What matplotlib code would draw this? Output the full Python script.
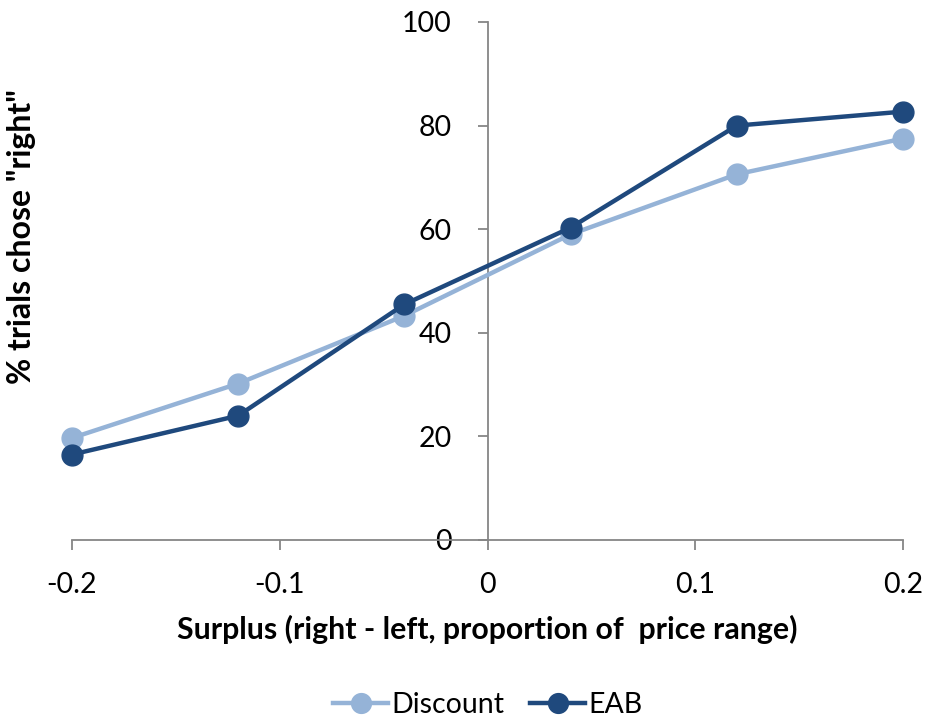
import matplotlib
matplotlib.use('Agg')
import matplotlib.pyplot as plt

surplus = [-0.2, -0.12, -0.04, 0.04, 0.12, 0.2]
discount = [19.7, 30.2, 43.3, 59.0, 70.6, 77.5]
eab = [16.5, 24.0, 45.5, 60.3, 80.0, 82.7]

x_ticks = [-0.2, -0.1, 0, 0.1, 0.2]
x_labels = ['-0.2', '-0.1', '0', '0.1', '0.2']
y_ticks = [0, 20, 40, 60, 80, 100]

discount_color = '#95B3D7'
eab_color = '#1F497D'
axis_color = '#868686'

plt.rcParams['font.family'] = ['Lato', 'DejaVu Sans']

fig = plt.figure(figsize=(9.25, 7.2), dpi=100)
ax = fig.add_axes([72/925, 180/720, 831/925, 518/720])

ax.plot(surplus, discount, color=discount_color, lw=3.2, marker='o', ms=15,
        label='Discount', clip_on=False, zorder=3)
ax.plot(surplus, eab, color=eab_color, lw=3.2, marker='o', ms=15,
        label='EAB', clip_on=False, zorder=4)

ax.set_xlim(-0.2, 0.2)
ax.set_ylim(0, 100)

# axes cross at zero like the Excel chart
ax.spines['left'].set_position(('data', 0))
ax.spines['bottom'].set_position(('data', 0))
ax.spines['top'].set_visible(False)
ax.spines['right'].set_visible(False)
for s in ['left', 'bottom']:
    ax.spines[s].set_color(axis_color)
    ax.spines[s].set_linewidth(1.3)

ax.set_xticks(x_ticks)
ax.set_xticklabels(x_labels)
ax.set_yticks(y_ticks)
ax.tick_params(axis='both', colors=axis_color, length=7, width=1.3,
               labelsize=20.5, labelcolor='black', direction='out')
ax.tick_params(axis='x', pad=16)
ax.tick_params(axis='y', pad=19)

ax.set_xlabel('Surplus (right - left, proportion of  price range)',
              fontsize=21.8, fontweight='bold', labelpad=12)
fig.text(22/925, 0.672, '% trials chose "right"', rotation=90, ha='center', va='center',
         fontsize=23, fontweight='bold')

ax.legend(loc='center', bbox_to_anchor=(0.5, -0.318), ncol=2, frameon=False,
          fontsize=20.5, handlelength=1.95, markerscale=0.95, columnspacing=0.9,
          handletextpad=0.1)

fig.savefig('out.png', dpi=100)
